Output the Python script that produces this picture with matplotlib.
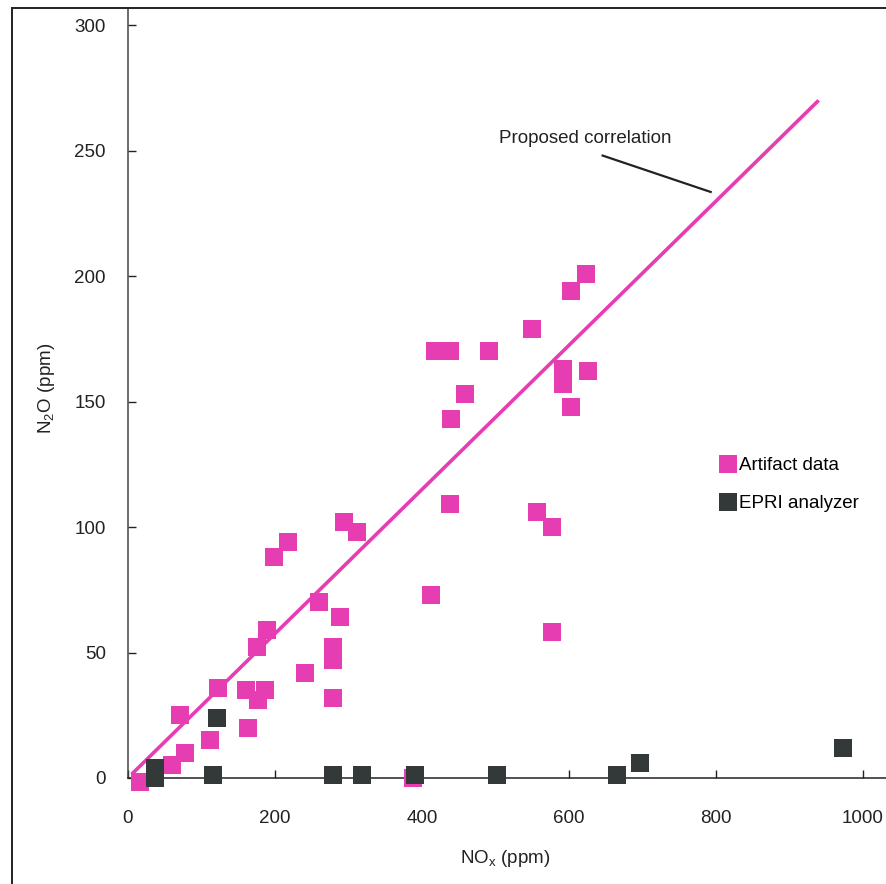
import matplotlib
matplotlib.use("Agg")
from matplotlib import pyplot as plt
from matplotlib.lines import Line2D

plt.rcParams['font.family'] = ['Liberation Sans', 'DejaVu Sans']
plt.rcParams['mathtext.fontset'] = 'custom'
plt.rcParams['mathtext.rm'] = 'Liberation Sans'

PINK = '#E63DB3'
DARK = '#333838'

# artifact data (NOx ppm, N2O ppm)
artifact_x = [16, 60, 78, 71, 112, 122, 163, 161, 186, 177, 175, 189, 199, 218,
              241, 260, 288, 279, 279, 279, 294, 312, 388, 412, 418, 438, 458,
              439, 438, 492, 550, 556, 577, 577, 592, 592, 603, 626, 603, 624]
artifact_y = [-1.5, 5, 10, 25, 15, 36, 20, 35, 35, 31, 52, 59, 88, 94,
              42, 70, 64, 52, 47, 32, 102, 98, 0, 73, 170, 170, 153,
              143, 109, 170, 179, 106, 100, 58, 163, 157, 148, 162, 194, 201]

# EPRI analyzer
epri_x = [37, 37, 121, 116, 279, 318, 391, 502, 665, 697, 973]
epri_y = [4, 0, 24, 1, 1, 1, 1, 1, 1, 6, 12]

# proposed correlation line
corr_x = [5, 940]
corr_y = [1.5, 270]

fig = plt.figure(figsize=(8.87, 8.84), dpi=100)
ax = fig.add_axes([128 / 887, 106 / 884, 759 / 887, 770 / 884])
ax.set_xlim(0, 1033)
ax.set_ylim(0, 306.8)

ax.plot(corr_x, corr_y, color=PINK, lw=2.6, solid_capstyle='butt', zorder=2)
ax.plot(artifact_x, artifact_y, 's', color=PINK, ms=13, mew=0, clip_on=False, zorder=3)
ax.plot(epri_x, epri_y, 's', color=DARK, ms=13, mew=0, clip_on=False, zorder=4)

ax.text(622, 255, 'Proposed correlation', fontsize=13.5, ha='center', va='center', color='#222222')
ax.plot([646, 793], [248, 233.5], color='#222222', lw=1.6)

for s in ['top', 'right']:
    ax.spines[s].set_visible(False)
ax.spines['left'].set_color('#444444')
ax.spines['bottom'].set_color('#222222')
ax.spines['left'].set_linewidth(1.1)
ax.spines['bottom'].set_linewidth(1.1)

ax.set_xticks([0, 200, 400, 600, 800, 1000])
ax.set_yticks([0, 50, 100, 150, 200, 250, 300])
ax.tick_params(axis='both', direction='in', length=6, width=1, labelsize=13.5, colors='#222222')
ax.tick_params(axis='y', pad=16)
ax.tick_params(axis='x', pad=23)

ax.set_xlabel(r'NO$_{\rm x}$ (ppm)', fontsize=13.5, va='center', color='#222222')
ax.xaxis.set_label_coords(0.497, -0.105)
ax.set_ylabel(r'N$_{\rm 2}$O (ppm)', fontsize=13.5, va='center', color='#222222')
ax.yaxis.set_label_coords(-0.108, 0.506)

handles = [Line2D([], [], ls='none', marker='s', color=PINK, ms=12.5, mew=0),
           Line2D([], [], ls='none', marker='s', color=DARK, ms=12.5, mew=0)]
ax.legend(handles, ['Artifact data', 'EPRI analyzer'], loc='center left',
          bbox_to_anchor=(0.767, 0.381), frameon=False, fontsize=13.5,
          borderpad=0, handlelength=0.9, handletextpad=0.15, labelspacing=1.1)

# figure border (left and top)
fig.add_artist(Line2D([12 / 887, 12 / 887], [0, 876 / 884], color='#222222', lw=1.4))
fig.add_artist(Line2D([12 / 887, 1], [876 / 884, 876 / 884], color='#222222', lw=1.4))

plt.savefig('out.png', dpi=100)
